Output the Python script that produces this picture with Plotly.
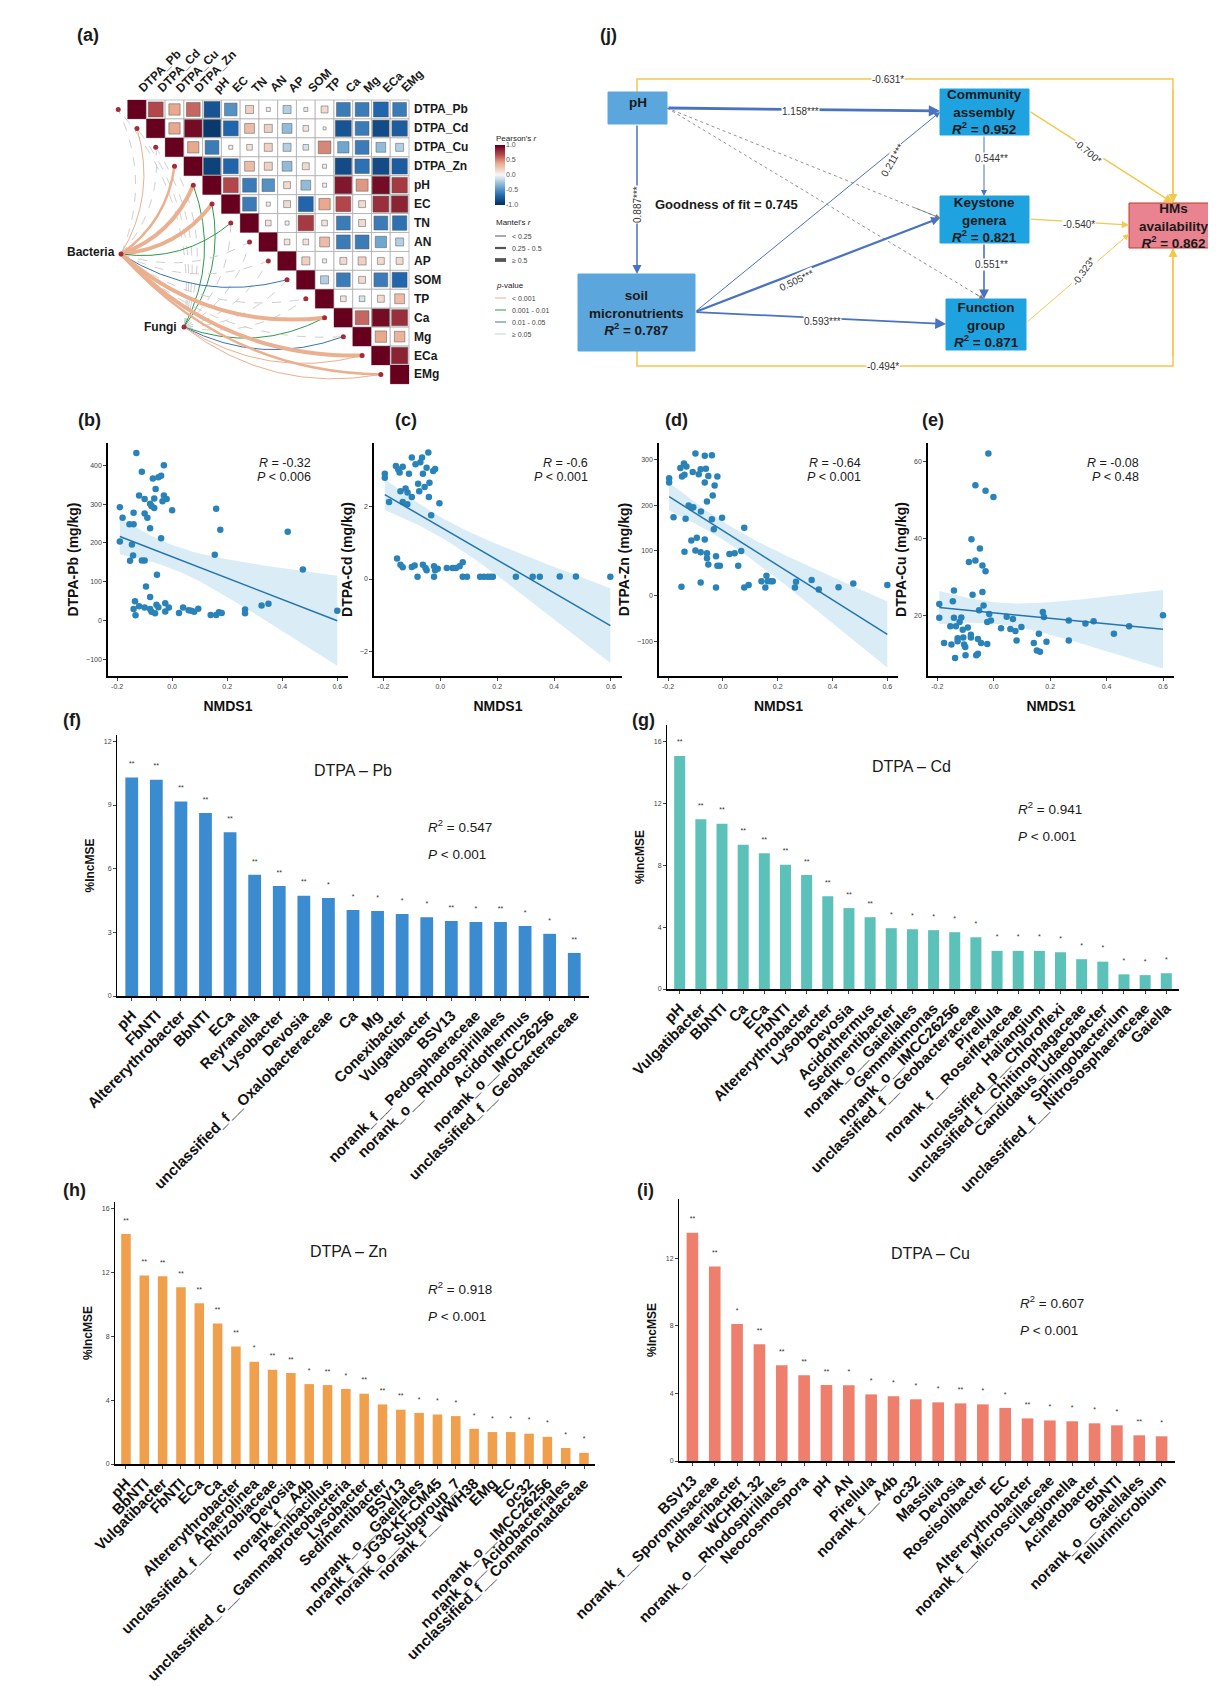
import numpy as np
import plotly.graph_objects as go
from plotly.colors import sample_colorscale

W, H = 1216, 1687
FONT = "Arial, Liberation Sans, sans-serif"

# ---------------- DATA ----------------
env_vars = ["DTPA_Pb", "DTPA_Cd", "DTPA_Cu", "DTPA_Zn", "pH", "EC", "TN", "AN", "AP", "SOM", "TP", "Ca", "Mg", "ECa", "EMg"]
r_rows = [
    [1, .70, .40, .60, -.80, -.50, .20, .05, -.20, -.05, .15, -.60, -.60, -.70, -.60],
    [1, .40, .95, -.95, -.70, .30, .20, -.30, .10, .02, -.80, -.60, -.85, -.75],
    [1, .40, -.60, .05, .10, .20, -.20, -.10, .50, -.40, -.60, -.30, -.20],
    [1, -.90, -.70, .30, .20, -.30, .15, .05, -.85, -.65, -.85, -.75],
    [1, .70, -.60, -.50, .15, -.30, .05, .90, .45, .95, .75],
    [1, -.60, .05, .15, -.70, .40, .70, .15, .80, .85],
    [1, .10, .05, .75, .10, -.60, .15, -.60, -.65],
    [1, .10, .10, .30, -.60, -.60, -.40, -.20],
    [1, .20, .05, .15, .20, .15, .15],
    [1, -.20, -.60, .15, -.60, -.70],
    [1, .10, -.10, .15, .30],
    [1, .60, .95, .80],
    [1, .40, .35],
    [1, .85],
    [1],
]
bact_p = ["ns", "p1", "ns", "p1", "p1", "p1", "p2", "ns", "ns", "p3", "ns", "p1", "ns", "p1", "p1"]
bact_r = ["mid", "lt", "lt", "mid", "ge", "ge", "lt", "lt", "lt", "lt", "lt", "ge", "lt", "ge", "mid"]
fungi_p = ["ns", "ns", "ns", "ns", "p2", "p2", "ns", "ns", "ns", "ns", "ns", "p2", "p3", "p1", "p1"]
fungi_r = ["lt", "lt", "lt", "lt", "lt", "lt", "lt", "lt", "lt", "lt", "lt", "lt", "lt", "lt", "lt"]

b_x = [-0.19,-0.19,-0.18,-0.155,-0.14,-0.14,-0.13,-0.11,-0.12,-0.10,-0.10,-0.09,-0.08,-0.075,-0.065,-0.065,-0.07,-0.05,-0.04,-0.03,-0.06,-0.035,-0.03,-0.02,0.0,-0.08,-0.04,-0.146,-0.142,-0.11,-0.10,-0.153,-0.055,-0.095,-0.08,-0.135,-0.14,-0.133,-0.12,-0.10,-0.08,-0.075,-0.062,-0.057,-0.05,-0.025,-0.025,-0.012,0.025,0.04,0.06,0.07,0.08,0.095,0.14,0.16,0.17,0.18,0.155,0.16,0.175,0.265,0.265,0.325,0.35,0.42,0.475,0.6]
b_y = [292,204,265,248,248,278,431,383,322,313,276,265,301,295,290,314,366,369,373,400,339,307,322,313,284,238,212,196,168,155,155,154,118,88,61,50,30,14,37,34,30,23,19,41,35,45,24,34,20,34,27,26,23,31,15,15,22,20,170,288,234,29,19,39,44,229,132,26]

c_x = [-0.195,-0.195,-0.18,-0.156,-0.148,-0.143,-0.132,-0.14,-0.132,-0.122,-0.115,-0.11,-0.1,-0.1,-0.116,-0.087,-0.078,-0.074,-0.07,-0.064,-0.055,-0.048,-0.042,-0.038,-0.04,-0.025,-0.018,-0.003,-0.032,-0.061,
       -0.152,-0.14,-0.132,-0.1,-0.09,-0.08,-0.061,-0.052,-0.048,-0.022,-0.022,-0.018,-0.009,0.023,0.043,0.055,0.068,0.079,0.079,0.094,0.14,0.153,0.166,0.176,0.185,0.266,0.325,0.35,0.42,0.477,0.598]
c_y = [2.89,2.78,2.11,3.1,3.01,2.92,3.08,2.41,2.11,2.48,2.37,2.89,3.33,2.25,2.05,3.15,2.61,2.41,3.2,3.33,2.52,3.05,3.47,2.64,2.25,2.96,3.02,2.08,1.75,2.89,
       0.56,0.39,0.32,0.33,0.37,0.06,0.39,0.3,0.24,0.35,0.06,0.24,0.28,0.3,0.3,0.3,0.35,0.46,0.06,0.06,0.06,0.06,0.06,0.06,0.06,0.06,0.06,0.06,0.07,0.07,0.06]

d_x = [-0.196,-0.196,-0.18,-0.155,-0.142,-0.133,-0.149,-0.14,-0.136,-0.125,-0.114,-0.11,-0.108,-0.1,-0.088,-0.081,-0.08,-0.066,-0.066,-0.062,-0.058,-0.053,-0.04,-0.037,-0.03,-0.02,-0.04,-0.033,-0.003,-0.115,-0.095,-0.066,-0.14,-0.1,-0.081,-0.058,-0.058,-0.053,-0.025,-0.02,-0.011,0.024,0.043,0.056,0.067,0.078,-0.151,-0.081,-0.025,0.078,0.094,0.141,0.159,0.164,0.155,0.175,0.182,0.267,0.263,0.324,0.35,0.422,0.476,0.6]
d_y = [259,250,173,282,292,285,263,267,170,199,194,273,195,314,268,279,186,309,250,280,208,264,310,221,243,263,169,147,172,122,128,124,97,100,96,94,83,69,87,66,66,92,94,66,99,150,20,29,18,18,24,32,44,32,18,32,32,31,18,35,14,19,27,24]

e_x = [-0.193,-0.193,-0.176,-0.154,-0.15,-0.145,-0.141,-0.141,-0.137,-0.134,-0.128,-0.128,-0.121,-0.115,-0.11,-0.108,-0.105,-0.101,-0.1,-0.092,-0.088,-0.081,-0.081,-0.079,-0.075,-0.065,-0.065,-0.062,-0.056,-0.056,-0.052,-0.049,-0.045,-0.04,-0.04,-0.036,-0.029,-0.029,-0.023,-0.019,-0.023,-0.016,-0.01,-0.001,0.026,0.046,0.059,0.068,0.077,0.081,0.098,0.142,0.16,0.153,0.164,0.174,0.178,0.187,0.266,0.266,0.325,0.354,0.426,0.48,0.6]
e_y = [22.9,19.3,12.8,17.1,12.4,23.6,26.4,19.3,8.9,17.1,13.2,14.0,18.2,19.4,16.2,14.2,12.4,11.7,9.6,16.8,33.8,14.9,14.2,39.7,25.3,53.7,34.2,9.6,13.8,10.0,21.3,37.3,12.8,32.9,26.0,22.5,52.3,31.4,12.5,62.0,18.2,20.3,18.6,50.7,16.6,19.6,16.4,19.0,15.9,13.4,16.9,12.8,15.2,10.8,10.5,20.8,19.5,13.1,18.6,13.4,17.8,18.4,15.2,17.1,20.0]

f_labels = ["pH","FbNTI","Altererythrobacter","BbNTI","ECa","Reyranella","Lysobacter","Devosia","unclassified_f__Oxalobacteraceae","Ca","Mg","Conexibacter","Vulgatibacter","BSV13","norank_f__Pedosphaeraceae","norank_o__Rhodospirillales","Acidothermus","norank_o__IMCC26256","unclassified_f__Geobacteraceae"]
f_vals = [10.3,10.19,9.17,8.62,7.72,5.71,5.18,4.73,4.62,4.05,4.0,3.87,3.71,3.54,3.49,3.49,3.3,2.93,2.03]
f_sig = ["**","**","**","**","**","**","**","**","*","*","*","*","*","**","*","**","*","*","**"]

g_labels = ["pH","Vulgatibacter","BbNTI","Ca","ECa","FbNTI","Altererythrobacter","Lysobacter","Devosia","Acidothermus","Sedimentibacter","norank_o__Gaiellales","Gemmatimonas","norank_o__IMCC26256","unclassified_f__Geobacteraceae","Pirellula","norank_f__Roseiflexaceae","Haliangium","unclassified_p__Chloroflexi","unclassified_f__Chitinophagaceae","Candidatus_Udaeobacter","Sphingobacterium","unclassified_f__Nitrososphaeraceae","Gaiella"]
g_vals = [15.1,11.0,10.7,9.35,8.8,8.05,7.38,6.0,5.24,4.65,3.94,3.87,3.81,3.68,3.35,2.47,2.47,2.47,2.38,1.93,1.77,0.95,0.9,1.02]
g_sig = ["**"]*10 + ["*"]*14

h_labels = ["pH","BbNTI","Vulgatibacter","FbNTI","ECa","Ca","Altererythrobacter","Anaerolinea","unclassified_f__Rhizobiaceae","Devosia","norank_f__A4b","Paenibacillus","unclassified_c__Gammaproteobacteria","Lysobacter","Sedimentibacter","BSV13","norank_o__Gaiellales","norank_f__JG30-KF-CM45","norank_o__Subgroup_7","norank_f__WWH38","EMg","EC","oc32","norank_o__IMCC26256","norank_o__Acidobacteriales","unclassified_f__Comamonadaceae"]
h_vals = [14.4,11.8,11.75,11.06,10.06,8.8,7.35,6.4,5.9,5.7,5.0,4.94,4.7,4.4,3.73,3.4,3.2,3.1,3.0,2.2,2.0,2.0,1.9,1.7,1.0,0.7]
h_sig = ["**"]*7 + ["*","**","**","*","**","*","**","**","**","*","*","*","*","*","*","*","*","*","*"]

i_labels = ["BSV13","norank_f__Sporomusaceae","Adhaeribacter","WCHB1.32","norank_o__Rhodospirillales","Neocosmospora","pH","AN","Pirellula","norank_f__A4b","oc32","Massilia","Devosia","Roseisolibacter","EC","Altererythrobacter","norank_f__Microscillaceae","Legionella","Acinetobacter","BbNTI","norank_o__Gaiellales","Tellurimicrobium"]
i_vals = [13.5,11.5,8.1,6.9,5.66,5.07,4.5,4.48,3.94,3.83,3.65,3.47,3.41,3.35,3.14,2.52,2.4,2.35,2.23,2.11,1.52,1.46]
i_sig = ["**","**","*","**","**","**","**","*","*","*","*","*","**","*","*","**","*","*","*","*","**","*"]

# ---------------- helpers ----------------
fig = go.Figure()
shapes, annots = [], []
layout = {}

def ann(x, y, text, size=12, bold=False, color="#1a1a1a", xanchor="center", yanchor="middle", angle=0, bg=None):
    t = f"<b>{text}</b>" if bold else text
    d = dict(x=x, y=y, xref="x", yref="y", text=t, showarrow=False,
             font=dict(family=FONT, size=size, color=color), xanchor=xanchor, yanchor=yanchor, textangle=angle)
    if bg:
        d["bgcolor"] = bg
        d["borderpad"] = 0
    annots.append(d)

layout["xaxis"] = dict(domain=[0, 1], range=[0, W], visible=False, fixedrange=True, automargin=False)
layout["yaxis"] = dict(domain=[0, 1], range=[H, 0], visible=False, fixedrange=True, automargin=False)
fig.add_trace(go.Scatter(x=[0], y=[0], mode="markers", marker=dict(opacity=0), showlegend=False, hoverinfo="skip"))

# ---------------- panel (a) ----------------
X0, CW, Y0, CH = 119.6, 18.76, 92, 18.93
n = len(env_vars)
ann(80, 27, "(a)", 18, True)
RDBU = [[0, "#053061"], [0.15, "#2166ac"], [0.3, "#6fa7cf"], [0.5, "#f7f7f7"], [0.7, "#e8a98f"], [0.85, "#b2464a"], [1, "#67001f"]]
star_x, star_y, star_t = [], [], []
for i in range(n):
    for k, r in enumerate(r_rows[i]):
        j = i + k
        cx, cy = X0 + (j + 0.5) * CW, Y0 + (i + 0.5) * CH
        col = sample_colorscale(RDBU, [(r + 1) / 2])[0]
        shapes.append(dict(type="rect", xref="x", yref="y", x0=X0 + j * CW, x1=X0 + (j + 1) * CW,
                           y0=Y0 + i * CH, y1=Y0 + (i + 1) * CH, line=dict(color="#a8a8a8", width=0.7),
                           fillcolor="white", layer="above"))
        s = np.sqrt(abs(r))
        hw, hh = max(CW / 2 * s * 0.95, 1.5), max(CH / 2 * s * 0.95, 1.5)
        if i == j:
            hw, hh = CW / 2, CH / 2
        shapes.append(dict(type="rect", xref="x", yref="y", x0=cx - hw, x1=cx + hw, y0=cy - hh, y1=cy + hh,
                           line=dict(color="#555555", width=0.5 if i != j else 0), fillcolor=col, layer="above"))
        if abs(r) >= 0.5:
            star_x.append(cx); star_y.append(cy); star_t.append("***")
        elif abs(r) >= 0.3:
            star_x.append(cx); star_y.append(cy); star_t.append("*")
    ann(X0 + n * CW + 3, Y0 + (i + 0.5) * CH, env_vars[i], 12, True, xanchor="left")
    ann(X0 + (i + 0.5) * CW - 4, Y0 - 2, env_vars[i], 12, True, xanchor="left", yanchor="bottom", angle=-45)
fig.add_trace(go.Scatter(x=star_x, y=star_y, text=star_t, mode="text", textfont=dict(size=6, color="#111111"),
                         showlegend=False, hoverinfo="skip"))

pcol = {"p1": "#eab08f", "p2": "#2e9a4a", "p3": "#3c73b5", "ns": "#cfcfcf"}
rw = {"lt": 1.0, "mid": 2.4, "ge": 4.0}
nodes = {"Bacteria": (113, 246), "Fungi": (176, 319)}
dots_x = [X0 + i * CW - 0.5 * CW for i in range(n)]
dots_y = [Y0 + (i + 0.5) * CH for i in range(n)]
for name, plist, rlist in [("Fungi", fungi_p, fungi_r), ("Bacteria", bact_p, bact_r)]:
    x0, y0 = nodes[name]
    for i in range(n):
        x1, y1 = dots_x[i], dots_y[i]
        dx, dy = x1 - x0, y1 - y0
        cx, cy = (x0 + x1) / 2 - dy * 0.22, (y0 + y1) / 2 + dx * 0.22
        p = plist[i]
        w = rw[rlist[i]] if p != "ns" else 1.0
        shapes.append(dict(type="path", xref="x", yref="y", path=f"M {x0},{y0} Q {cx},{cy} {x1},{y1}",
                           line=dict(color=pcol[p], width=w, dash="dash" if p == "ns" else "solid"), layer="below"))
fig.add_trace(go.Scatter(x=dots_x + [nodes["Bacteria"][0], nodes["Fungi"][0]],
                         y=dots_y + [nodes["Bacteria"][1], nodes["Fungi"][1]], mode="markers",
                         marker=dict(size=5, color="#a52a3a"), showlegend=False, hoverinfo="skip"))
ann(109, 244, "Bacteria", 12, True, xanchor="right")
ann(171, 319, "Fungi", 12, True, xanchor="right")

# colourbar
layout["xaxis6"] = dict(domain=[487 / W, 497 / W], visible=False, fixedrange=True, automargin=False)
layout["yaxis6"] = dict(domain=[1 - 197 / H, 1 - 137 / H], range=[-1, 1], side="right", anchor="x6",
                        tickvals=[-1, -0.5, 0, 0.5, 1], ticktext=["-1.0", "-0.5", "0.0", "0.5", "1.0"],
                        tickfont=dict(size=7, color="#555"), ticks="", showline=False, showgrid=False, zeroline=False,
                        fixedrange=True, automargin=False)
zz = np.linspace(-1, 1, 60)
fig.add_trace(go.Heatmap(z=zz.reshape(-1, 1), y=zz, x=[0], colorscale=RDBU, zmin=-1, zmax=1, showscale=False,
                         xaxis="x6", yaxis="y6", hoverinfo="skip"))
ann(486, 130, "Pearson's <i>r</i>", 8, xanchor="left")
ann(486, 214, "Mantel's <i>r</i>", 8, xanchor="left")
for k, (lab, w) in enumerate([("< 0.25", 1), ("0.25 - 0.5", 2.2), ("≥ 0.5", 3.8)]):
    yy = 228 + k * 12
    shapes.append(dict(type="line", xref="x", yref="y", x0=487, x1=498, y0=yy, y1=yy, line=dict(color="#555", width=w)))
    ann(502, yy, lab, 7, xanchor="left", color="#444")
ann(486, 277, "<i>p</i>-value", 8, xanchor="left")
for k, (lab, c) in enumerate([("< 0.001", "p1"), ("0.001 - 0.01", "p2"), ("0.01 - 0.05", "p3"), ("≥ 0.05", "ns")]):
    yy = 290 + k * 12
    shapes.append(dict(type="line", xref="x", yref="y", x0=487, x1=498, y0=yy, y1=yy, line=dict(color=pcol[c], width=1)))
    ann(502, yy, lab, 7, xanchor="left", color="#444")

# ---------------- panel (j) ----------------
ann(600, 27, "(j)", 18, True)
YEL = "#f3c84f"; BLU = "#4a72c0"
boxes = {
    "pH": (600, 659, 84, 116, "#5ba7dd", "pH"),
    "CA": (932, 1021, 81, 127, "#1ea3e0", "Community<br>assembly<br><i>R</i><sup>2</sup> = 0.952"),
    "KG": (932, 1021, 188, 235, "#1ea3e0", "Keystone<br>genera<br><i>R</i><sup>2</sup> = 0.821"),
    "FG": (938, 1018, 291, 342, "#1ea3e0", "Function<br>group<br><i>R</i><sup>2</sup> = 0.871"),
    "SM": (570, 687, 266, 343, "#5ba7dd", "soil<br>micronutrients<br><i>R</i><sup>2</sup> = 0.787"),
    "HM": (1121, 1210, 195, 240, "#e8838f", "HMs<br>availability<br><i>R</i><sup>2</sup> = 0.862"),
}
shapes.append(dict(type="path", xref="x", yref="y", path="M 629,84 L 629,71 L 1165,71 L 1165,195", line=dict(color=YEL, width=1.5)))
shapes.append(dict(type="path", xref="x", yref="y", path="M 629,343 L 629,358 L 1165,358 L 1165,240", line=dict(color=YEL, width=1.5)))
shapes.append(dict(type="line", xref="x", yref="y", x0=659, y0=100, x1=932, y1=210, line=dict(color="#777", width=0.8, dash="dot")))
shapes.append(dict(type="line", xref="x", yref="y", x0=659, y0=100, x1=976, y1=291, line=dict(color="#777", width=0.8, dash="dot")))
for key, (a, b, c, d, col, txt) in boxes.items():
    shapes.append(dict(type="rect", xref="x", yref="y", x0=a, x1=b, y0=c, y1=d, fillcolor=col,
                       line=dict(color="#c0392b" if key == "HM" else col, width=1)))
    ann((a + b) / 2, (c + d) / 2 if key != "pH" else c + 10, txt, 13.5, True)

def arrow(x0, y0, x1, y1, color, width):
    annots.append(dict(x=x1, y=y1, ax=x0, ay=y0, xref="x", yref="y", axref="x", ayref="y", showarrow=True,
                       arrowhead=2, arrowsize=1.2 if width < 2 else 0.8, arrowwidth=width, arrowcolor=color, text=""))

arrow(659, 100, 932, 103, BLU, 2.8)
arrow(629, 116, 629, 266, BLU, 1.5)
arrow(905, 199, 932, 210, "#777", 0.8)
arrow(966, 285, 976, 291, "#777", 0.8)
arrow(687, 304, 932, 104, BLU, 1)
arrow(687, 304, 932, 210, BLU, 2.2)
arrow(687, 304, 938, 316, BLU, 1.8)
arrow(976, 127, 976, 188, BLU, 1)
arrow(976, 235, 976, 291, BLU, 1.6)
arrow(1021, 103, 1165, 195, YEL, 1.5)
arrow(1021, 211, 1121, 217, YEL, 1.2)
arrow(1018, 315, 1121, 226, YEL, 1)
arrow(1165, 80, 1165, 195, YEL, 1.5)
arrow(1165, 350, 1165, 240, YEL, 1.5)
for (x, y, t, a) in [(792, 103, "1.158***", 0), (629, 197, "0.887***", -90), (884, 152, "0.211***", -60),
                     (788, 272, "0.505***", -25), (814, 313, "0.593***", 0), (983, 150, "0.544**", 0),
                     (983, 256, "0.551**", 0), (1080, 143, "-0.700*", 40), (1071, 216, "-0.540*", 0),
                     (1075, 263, "-0.323*", -55), (880, 71, "-0.631*", 0), (875, 358, "-0.494*", 0)]:
    ann(x, y, t, 10, color="#333", angle=a, bg="white")
ann(718, 196, "Goodness of fit = 0.745", 13, True)

# ---------------- scatter panels b-e ----------------
def scatter_panel(idx, xs, ys, box, yr, ytick, ylab, lab, lpos, rtxt, ptxt, tpos):
    x0, x1, y0, y1 = box
    layout[f"xaxis{idx}"] = dict(domain=[x0 / W, x1 / W], range=[-0.233, 0.639], anchor=f"y{idx}",
                                 tickvals=[-0.2, 0, 0.2, 0.4, 0.6], ticktext=["-0.2", "0.0", "0.2", "0.4", "0.6"],
                                 tickfont=dict(size=7, color="#444"), showline=True, linecolor="black", linewidth=1.5,
                                 ticks="outside", ticklen=3, showgrid=False, zeroline=False, automargin=False,
                                 title=dict(text="<b>NMDS1</b>", font=dict(size=14, family=FONT, color="#111"), standoff=12))
    layout[f"yaxis{idx}"] = dict(domain=[1 - y1 / H, 1 - y0 / H], range=yr, anchor=f"x{idx}", tickvals=ytick,
                                 tickfont=dict(size=7, color="#444"), showline=True, linecolor="black", linewidth=1.5,
                                 ticks="outside", ticklen=3, showgrid=False, zeroline=False, automargin=False,
                                 title=dict(text=f"<b>{ylab}</b>", font=dict(size=14, family=FONT, color="#111"), standoff=4))
    xs, ys = np.array(xs), np.array(ys)
    b, a = np.polyfit(xs, ys, 1)
    xg = np.linspace(xs.min(), xs.max(), 60)
    res = ys - (a + b * xs)
    s = np.sqrt((res ** 2).sum() / (len(xs) - 2))
    se = s * np.sqrt(1 / len(xs) + (xg - xs.mean()) ** 2 / ((xs - xs.mean()) ** 2).sum())
    yg = a + b * xg
    fig.add_trace(go.Scatter(x=np.r_[xg, xg[::-1]], y=np.r_[yg + 2 * se, (yg - 2 * se)[::-1]], fill="toself",
                             fillcolor="rgba(150,200,225,0.35)", line=dict(width=0), xaxis=f"x{idx}", yaxis=f"y{idx}",
                             showlegend=False, hoverinfo="skip"))
    fig.add_trace(go.Scatter(x=xs, y=ys, mode="markers", marker=dict(size=6.5, color="#2a83b8"), xaxis=f"x{idx}",
                             yaxis=f"y{idx}", showlegend=False))
    fig.add_trace(go.Scatter(x=xg, y=yg, mode="lines", line=dict(color="#2474ae", width=1.5), xaxis=f"x{idx}",
                             yaxis=f"y{idx}", showlegend=False))
    ann(lpos[0], lpos[1], lab, 18, True)
    ann(tpos[0], tpos[1], rtxt, 12.5, xanchor="right")
    ann(tpos[0], tpos[1] + 14, ptxt, 12.5, xanchor="right")

scatter_panel(2, b_x, b_y, (100, 340, 435, 668), [-142, 457], [-100, 0, 100, 200, 300, 400], "DTPA-Pb (mg/kg)",
              "(b)", (81, 412), "<i>R</i> = -0.32", "<i>P</i> < 0.006", (305, 455))
scatter_panel(3, c_x, c_y, (366, 614, 435, 668), [-2.66, 3.73], [-2, 0, 2], "DTPA-Cd (mg/kg)",
              "(c)", (398, 412), "<i>R</i> = -0.6", "<i>P</i> < 0.001", (582, 455))
scatter_panel(4, d_x, d_y, (651, 890, 435, 668), [-177, 337], [-100, 0, 100, 200, 300], "DTPA-Zn (mg/kg)",
              "(d)", (668, 412), "<i>R</i> = -0.64", "<i>P</i> < 0.001", (855, 455))
scatter_panel(5, e_x, e_y, (920, 1166, 435, 668), [4.2, 64.7], [20, 40, 60], "DTPA-Cu (mg/kg)",
              "(e)", (925, 412), "<i>R</i> = -0.08", "<i>P</i> < 0.48", (1133, 455))

# ---------------- bar panels f-i ----------------
def bar_panel(idx, labels, vals, sig, color, box, yr, ytick, lab, lpos, title, tpos, r2, rpos):
    x0, x1, y0, y1 = box
    layout[f"xaxis{idx}"] = dict(domain=[x0 / W, x1 / W], anchor=f"y{idx}", tickangle=-45,
                                 tickmode="array", tickvals=labels, ticktext=labels,
                                 tickfont=dict(size=15, family=FONT, color="#111", weight="bold"),
                                 showline=True, linecolor="black", linewidth=1.5, ticks="outside", ticklen=3,
                                 showgrid=False, range=[-0.6, len(vals) - 0.4], automargin=False)
    layout[f"yaxis{idx}"] = dict(domain=[1 - y1 / H, 1 - y0 / H], anchor=f"x{idx}", range=yr, tickvals=ytick,
                                 tickfont=dict(size=7, color="#444"), showline=True, linecolor="black", linewidth=1,
                                 ticks="outside", ticklen=3, showgrid=False, zeroline=False, automargin=False,
                                 title=dict(text="<b>%IncMSE</b>", font=dict(size=12, family=FONT, color="#111"), standoff=6))
    fig.add_trace(go.Bar(x=labels, y=vals, marker=dict(color=color, line=dict(width=0)), width=0.52,
                         xaxis=f"x{idx}", yaxis=f"y{idx}", showlegend=False))
    off = yr[1] * 0.05
    fig.add_trace(go.Scatter(x=labels, y=[v + off for v in vals], text=sig, mode="text",
                             textfont=dict(size=7, color="#333"), xaxis=f"x{idx}", yaxis=f"y{idx}",
                             showlegend=False, hoverinfo="skip"))
    ann(lpos[0], lpos[1], lab, 18, True)
    ann(tpos[0], tpos[1], title, 16)
    ann(rpos[0], rpos[1], f"<i>R</i><sup>2</sup> = {r2}", 13.5, xanchor="left")
    ann(rpos[0], rpos[1] + 28, "<i>P</i> < 0.001", 13.5, xanchor="left")

bar_panel(7, f_labels, f_vals, f_sig, "#3b8bd0", (109, 581, 727, 988), [0, 12.3], [0, 3, 6, 9, 12],
          "(f)", (64, 712), "DTPA – Pb", (345, 762), "0.547", (418, 818))
bar_panel(8, g_labels, g_vals, g_sig, "#5cc1b9", (659, 1171, 717, 981), [0, 17.1], [0, 4, 8, 12, 16],
          "(g)", (635, 712), "DTPA – Cd", (903, 758), "0.941", (1008, 800))
bar_panel(9, h_labels, h_vals, h_sig, "#f0a04c", (107, 587, 1194, 1456), [0, 16.4], [0, 4, 8, 12, 16],
          "(h)", (66, 1182), "DTPA – Zn", (340, 1243), "0.918", (418, 1280))
bar_panel(10, i_labels, i_vals, i_sig, "#ee7f6c", (671, 1167, 1191, 1453), [0, 15.5], [0, 4, 8, 12],
          "(i)", (637, 1182), "DTPA – Cu", (922, 1245), "0.607", (1010, 1294))

fig.update_layout(width=W, height=H, margin=dict(l=0, r=0, t=0, b=0, autoexpand=False), paper_bgcolor="white",
                  plot_bgcolor="rgba(0,0,0,0)", font=dict(family=FONT), shapes=shapes, annotations=annots,
                  bargap=0.4, **layout)
fig.write_html("out.html")
